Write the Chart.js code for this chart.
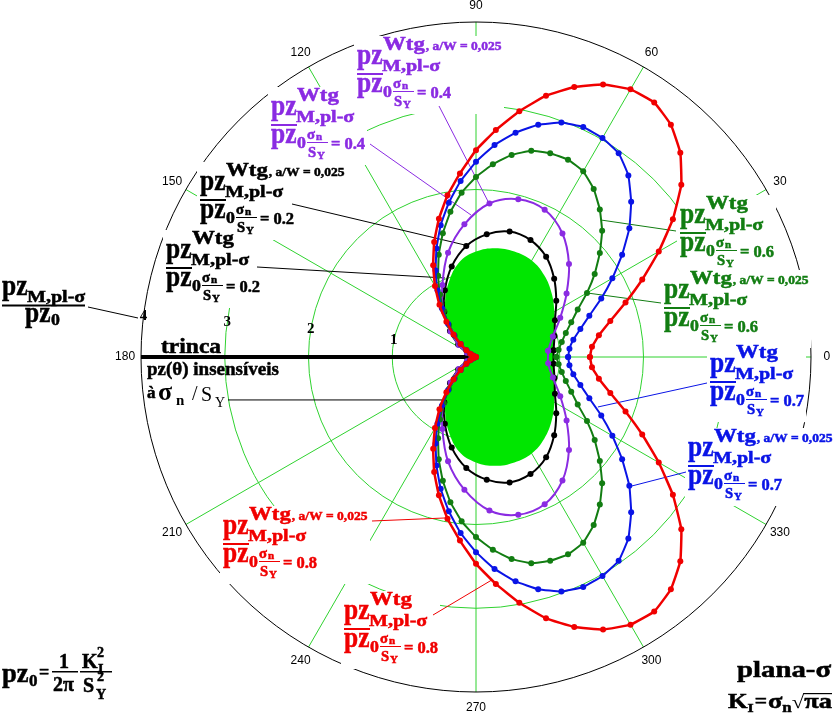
<!DOCTYPE html>
<html lang="pt">
<head>
<meta charset="UTF-8">
<title>pz(θ) plana-σ</title>
<script src="https://cdn.jsdelivr.net/npm/chart.js"></script>
<style>
  html, body { margin: 0; padding: 0; background: #fff; }
  canvas { display: block; }
</style>
</head>
<body>
<canvas id="polar" width="833" height="714"></canvas>
<script>
// angles in degrees, radii in pz/pz0 units
const ang5 = [0,5,10,15,20,25,30,35,40,45,50,55,60,65,70,75,80,85,90,95,100,105,110,115,120,125,130,135,140,145,150,155,160,165,170,175,180,
  185,190,195,200,205,210,215,220,225,230,235,240,245,250,255,260,265,270,275,280,285,290,295,300,305,310,315,320,325,330,335,340,345,350,355,360];
const ang10odd = [5,15,25,35,45,55,65,75,85,95,105,115,125,135,145,155,165,175,
  185,195,205,215,225,235,245,255,265,275,285,295,305,315,325,335,345,355,365];
const ang10 = [0,10,20,30,40,50,60,70,80,90,100,110,120,130,140,150,160,170,180,
  190,200,210,220,230,240,250,260,270,280,290,300,310,320,330,340,350,360];

// sigma_n/S_Y = 0.8 (red)
const redR = [1.36,1.39,1.49,1.66,1.90,2.19,2.52,2.87,3.20,3.45,3.62,3.71,3.69,3.59,3.43,3.23,2.98,2.72,2.47,2.20,1.96,1.71,1.46,1.21,0.98,0.76,0.55,0.38,0.24,0.14,0.08,0.05,0.03,0.02,0.01,0.005,0,
  0.005,0.01,0.02,0.03,0.05,0.08,0.14,0.24,0.38,0.55,0.76,0.98,1.21,1.46,1.71,1.96,2.20,2.47,2.72,2.98,3.23,3.43,3.59,3.69,3.71,3.62,3.45,3.20,2.87,2.52,2.19,1.90,1.66,1.49,1.39,1.36];
// 0.7 (blue)
const blueR = [1.10,1.12,1.18,1.29,1.44,1.65,1.88,2.13,2.39,2.62,2.83,2.97,3.02,3.03,2.98,2.87,2.72,2.54,2.33,2.11,1.87,1.63,1.38,1.14,0.92,0.71,0.52,0.37,0.24,0.14,0.08,0.05,0.03,0.02,0.01,0.005,0,
  0.005,0.01,0.02,0.03,0.05,0.08,0.14,0.24,0.37,0.52,0.71,0.92,1.14,1.38,1.63,1.87,2.11,2.33,2.54,2.72,2.87,2.98,3.03,3.02,2.97,2.83,2.62,2.39,2.13,1.88,1.65,1.44,1.29,1.18,1.12,1.10];
// 0.6 (green)
const greenR = [0.96,0.99,1.04,1.11,1.21,1.34,1.53,1.73,1.93,2.13,2.30,2.45,2.56,2.60,2.59,2.55,2.45,2.31,2.15,1.97,1.76,1.53,1.30,1.07,0.86,0.67,0.50,0.36,0.24,0.14,0.08,0.05,0.03,0.02,0.01,0.005,0,
  0.005,0.01,0.02,0.03,0.05,0.08,0.14,0.24,0.36,0.50,0.67,0.86,1.07,1.30,1.53,1.76,1.97,2.15,2.31,2.45,2.55,2.59,2.60,2.56,2.45,2.30,2.13,1.93,1.73,1.53,1.34,1.21,1.11,1.04,0.99,0.96];
// 0.4 (purple)
const purpleR = [0.865,0.95,1.11,1.32,1.57,1.80,1.94,1.95,1.84,1.59,1.29,0.95,0.68,0.43,0.25,0.12,0.05,0.01,
  0.01,0.05,0.12,0.25,0.43,0.68,0.95,1.29,1.59,1.84,1.95,1.94,1.80,1.57,1.32,1.11,0.95,0.865,0.865];
// 0.2 (black)
const blackR = [0.93,0.97,1.04,1.17,1.32,1.46,1.54,1.55,1.47,1.33,1.12,0.88,0.66,0.44,0.26,0.12,0.05,0.01,
  0.01,0.05,0.12,0.26,0.44,0.66,0.88,1.12,1.33,1.47,1.55,1.54,1.46,1.32,1.17,1.04,0.97,0.93,0.93];
// region where pz(theta) does not depend on sigma_n/S_Y
const insensR = [0.92,0.94,0.99,1.08,1.18,1.27,1.33,1.34,1.32,1.26,1.15,0.95,0.74,0.53,0.31,0.15,0.06,0.02,0,
  0.02,0.06,0.15,0.31,0.53,0.74,0.95,1.15,1.26,1.32,1.34,1.33,1.27,1.18,1.08,0.99,0.94,0.92];

const rings = [1, 2, 3];
const rMax = 4;
const spokes = [0, 30, 60, 90, 120, 150, 180, 210, 240, 270, 300, 330];
const angleLabels = ['0', '30', '60', '90', '120', '150', '180', '210', '240', '270', '300', '330'];
const ringLabels = ['1', '2', '3', '4'];

const RED = '#f00000', BLUE = '#0a14e6', GREEN = '#127d12', PURPLE = '#8a2be2', BLACK = '#000000';
const GRID = '#2fd22f', FILL = '#00e600';

const toXY = (angs, rs) => angs.map((a, i) => ({
  x: rs[i] * Math.cos(a * Math.PI / 180),
  y: rs[i] * Math.sin(a * Math.PI / 180)
}));

function curve(label, angs, rs, color, width, tension) {
  return {
    label, data: toXY(angs, rs), showLine: true, borderColor: color, backgroundColor: color,
    borderWidth: width, pointRadius: 3, pointBorderWidth: 0, pointBackgroundColor: color,
    tension, clip: false
  };
}

// text labels: x,y = left edge / fraction-bar level; leader goes to a point on the curve (r, deg)
const curveLabels = [
  { color: PURPLE, x: 357, y: 74,  aw: true,  val: '0.4', from: [439, 106], to: [1.844, 85.2] },
  { color: PURPLE, x: 271, y: 125, aw: false, val: '0.4', from: [370, 144], to: [1.696, 92] },
  { color: BLACK,  x: 200, y: 200, aw: true,  val: '0.2', from: [292, 204], to: [1.343, 95.6] },
  { color: BLACK,  x: 166, y: 268, aw: false, val: '0.2', from: [257, 267], to: [1.013, 111.4] },
  { color: GREEN,  x: 680, y: 233, aw: false, val: '0.6', from: [676, 231], to: [2.22, 47.4] },
  { color: GREEN,  x: 664, y: 308, aw: true,  val: '0.6', from: [661, 303], to: [1.54, 29.7] },
  { color: BLUE,   x: 710, y: 382, aw: false, val: '0.7', from: [707, 383], to: [1.573, -22.3] },
  { color: BLUE,   x: 688, y: 466, aw: true,  val: '0.7', from: [686, 472], to: [2.41, -39.8] },
  { color: RED,    x: 223, y: 544, aw: true,  val: '0.8', from: [372, 521], to: [1.952, -100.2] },
  { color: RED,    x: 344, y: 629, aw: false, val: '0.8', from: [433, 615], to: [2.668, -85.9] }
];

const SERIF = '"Liberation Serif", "Times New Roman", serif';
const F = (s, w) => `${w || 'bold'} ${s}px ${SERIF}`;
let heavy = 0;

function txt(ctx, s, x, y, font, sx) {
  ctx.save();
  ctx.font = font;
  ctx.translate(x, y);
  ctx.scale(sx || 1, 1);
  ctx.fillText(s, 0, 0);
  if (heavy) {
    ctx.lineWidth = heavy;
    ctx.strokeStyle = ctx.fillStyle;
    ctx.strokeText(s, 0, 0);
  }
  const w = ctx.measureText(s).width * (sx || 1);
  ctx.restore();
  return w;
}

function pzLabel(ctx, L) {
  const x = L.x, y = L.y;
  ctx.fillStyle = L.color;
  txt(ctx, 'pz', x, y - 10, F(30), 0.85);
  const w = txt(ctx, 'Wtg', x + 26, y - 24, F(19), 1.2);
  if (L.aw) txt(ctx, ', a/W = 0,025', x + 27 + w, y - 24, F(13), 1.04);
  txt(ctx, 'M,pl-σ', x + 25, y - 3, F(17), 1.18);
  ctx.fillRect(x, y - 1, 26, 2);
  txt(ctx, 'pz', x, y + 18, F(30), 0.85);
  txt(ctx, '0', x + 26, y + 23, F(17), 1.05);
  txt(ctx, 'σ', x + 36, y + 14, F(14), 1.05);
  txt(ctx, 'n', x + 45, y + 15, F(11), 1.0);
  ctx.fillRect(x + 36, y + 17, 21, 1);
  txt(ctx, 'S', x + 37, y + 32, F(14), 1.05);
  txt(ctx, 'Y', x + 46, y + 34, F(11), 1.0);
  txt(ctx, '= ' + L.val, x + 60, y + 24, F(16), 1.03);
}

const polarDecor = {
  id: 'polarDecor',
  beforeDatasetsDraw(chart) {
    const { ctx, scales: { x: sx, y: sy } } = chart;
    const P = (r, deg) => [sx.getPixelForValue(r * Math.cos(deg * Math.PI / 180)),
                           sy.getPixelForValue(r * Math.sin(deg * Math.PI / 180))];
    const cx = sx.getPixelForValue(0), cy = sy.getPixelForValue(0);
    const unit = sx.getPixelForValue(1) - cx;
    ctx.save();

    // green grid
    ctx.strokeStyle = GRID;
    ctx.lineWidth = 1;
    rings.forEach(r => { ctx.beginPath(); ctx.arc(cx, cy, r * unit, 0, 2 * Math.PI); ctx.stroke(); });
    spokes.forEach(a => {
      const [px, py] = P(rMax, a);
      ctx.beginPath(); ctx.moveTo(cx, cy); ctx.lineTo(px, py); ctx.stroke();
    });
    ctx.strokeStyle = '#000';
    ctx.beginPath(); ctx.arc(cx, cy, rMax * unit, 0, 2 * Math.PI); ctx.stroke();

    // the crack
    const [kx, ky] = P(rMax, 180);
    ctx.lineWidth = 4;
    ctx.beginPath(); ctx.moveTo(kx, ky); ctx.lineTo(cx - 3, cy); ctx.stroke();

    // label backgrounds hide the grid
    ctx.fillStyle = '#fff';
    curveLabels.forEach(L => ctx.fillRect(L.x - 3, L.y - 38, L.aw ? 150 : 99, 78));

    // leader lines
    ctx.lineWidth = 1;
    curveLabels.forEach(L => {
      const [tx, ty] = P(L.to[0], L.to[1]);
      ctx.strokeStyle = L.color;
      ctx.beginPath(); ctx.moveTo(L.from[0], L.from[1]); ctx.lineTo(tx, ty); ctx.stroke();
    });
    ctx.strokeStyle = '#000';
    ctx.beginPath(); ctx.moveTo(88, 307); ctx.lineTo(138, 318); ctx.stroke();
    const [ix, iy] = P(0.515, -84.7);
    ctx.beginPath(); ctx.moveTo(228, iy); ctx.lineTo(ix, iy); ctx.stroke();

    // angle labels
    ctx.fillStyle = '#000';
    ctx.font = '12px "Liberation Sans", Arial, sans-serif';
    ctx.textAlign = 'center';
    ctx.textBaseline = 'middle';
    spokes.forEach((a, i) => {
      const [px, py] = P(4.19, a);
      ctx.fillText(angleLabels[i], px, py);
    });
    // ring labels
    ctx.font = F(15);
    const ringPos = [[1, 168.7], [2, 170.5], [3, 172], [4, 173]];
    ringLabels.forEach((t, i) => {
      const [px, py] = P(ringPos[i][0], ringPos[i][1]);
      ctx.fillText(t, px, py);
    });
    ctx.textAlign = 'left';
    ctx.textBaseline = 'alphabetic';

    heavy = 0.5;
    curveLabels.forEach(L => pzLabel(ctx, L));

    // radial axis title
    ctx.fillStyle = '#000';
    txt(ctx, 'pz', 2, 295, F(30), 0.85);
    txt(ctx, 'M,pl-σ', 27, 301.5, F(17), 1.18);
    ctx.fillRect(2, 304.5, 83, 2);
    txt(ctx, 'pz', 25, 322, F(30), 0.85);
    txt(ctx, '0', 51, 325, F(17), 1.05);

    // crack annotations
    txt(ctx, 'trinca', 161, 353, F(22), 1.07);
    txt(ctx, 'pz(θ) insensíveis', 147, 375, F(19));
    txt(ctx, 'à', 147, 398, F(17));
    heavy = 0;
    txt(ctx, 'σ', 158, 400, F(26));
    txt(ctx, 'n', 176, 405, F(15));
    txt(ctx, '/', 192, 400, F(20, 'normal'));
    txt(ctx, 'S', 201, 401, F(20, 'normal'));
    txt(ctx, 'Y', 215, 407, F(14, 'normal'));
    heavy = 0.5;

    // pz0 definition
    txt(ctx, 'pz', 2, 682, F(28), 0.95);
    txt(ctx, '0', 29, 686, F(17));
    txt(ctx, '=', 39, 678, F(18));
    txt(ctx, '1', 59, 668, F(20));
    ctx.fillRect(52, 671, 26, 1.5);
    txt(ctx, '2π', 53, 691, F(20));
    txt(ctx, 'K', 82, 668, F(20));
    txt(ctx, '2', 97, 657, F(14));
    txt(ctx, 'I', 98, 674, F(14));
    ctx.fillRect(80, 671, 32, 1.5);
    txt(ctx, 'S', 83, 692, F(20));
    txt(ctx, '2', 97, 681, F(14));
    txt(ctx, 'Y', 96, 699, F(14));

    // plane stress note
    txt(ctx, 'plana-σ', 737, 677, F(24), 1.2);
    let kx2 = 728;
    kx2 += txt(ctx, 'K', kx2, 708, F(21), 1.2);
    kx2 += txt(ctx, 'I', kx2, 712, F(13), 1.2) + 1;
    kx2 += txt(ctx, '=', kx2, 707, F(18), 1.2) + 1;
    kx2 += txt(ctx, 'σ', kx2, 708, F(22), 1.2);
    kx2 += txt(ctx, 'n', kx2, 712, F(14), 1.2);
    heavy = 0;
    kx2 += txt(ctx, '√', kx2, 708, F(19, 'normal'), 1.2);
    ctx.fillRect(kx2 - 1, 693, 833 - kx2, 1.2);
    heavy = 0.5;
    txt(ctx, 'πa', kx2, 708, F(22), 1.2);
    heavy = 0;

    ctx.restore();
  }
};

new Chart(document.getElementById('polar'), {
  type: 'scatter',
  data: {
    datasets: [
      curve('0.8', ang5, redR, RED, 2.5, 0.1),
      curve('0.7', ang5, blueR, BLUE, 2, 0.1),
      curve('0.6', ang5, greenR, GREEN, 2, 0.1),
      curve('0.4', ang10odd, purpleR, PURPLE, 2, 0.35),
      curve('0.2', ang10odd, blackR, BLACK, 2, 0.35),
      {
        label: 'insensível', data: toXY(ang10, insensR), showLine: true,
        borderWidth: 0, borderColor: FILL, backgroundColor: FILL, pointRadius: 0,
        fill: 'shape', tension: 0.4, clip: false
      }
    ]
  },
  options: {
    responsive: false,
    devicePixelRatio: 1,
    animation: false,
    layout: { padding: { left: 141, right: 22, top: 22, bottom: 22 } },
    scales: {
      x: { min: -4, max: 4, display: false },
      y: { min: -4, max: 4, display: false }
    },
    plugins: { legend: { display: false }, tooltip: { enabled: false } }
  },
  plugins: [polarDecor]
});
</script>
</body>
</html>
